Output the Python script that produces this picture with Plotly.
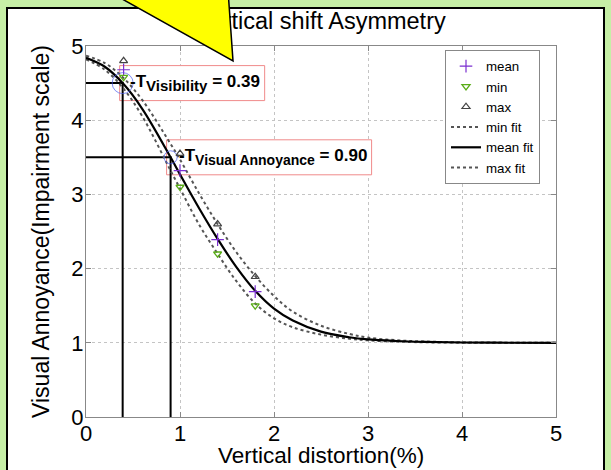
import plotly.graph_objects as go

# ---------------- data ----------------
x_pts = [0.4, 1.0, 1.4, 1.8]
mean_pts = [4.68, 3.32, 2.39, 1.69]
min_pts = [4.58, 3.10, 2.20, 1.50]
max_pts = [4.80, 3.55, 2.60, 1.89]

fit_x = [0, 0.2, 0.39, 0.6, 0.9, 1.0, 1.2, 1.4, 1.6, 1.8, 2.0, 2.2, 2.5, 2.8, 3.0, 3.3, 3.6, 4.0, 4.5, 5.0]
mean_fit = [4.84, 4.72, 4.5, 4.15, 3.5, 3.27, 2.82, 2.4, 2.02, 1.70, 1.46, 1.30, 1.15, 1.075, 1.045, 1.024, 1.012, 1.004, 1.001, 1.0]
min_fit = [4.82, 4.68, 4.44, 4.05, 3.32, 3.08, 2.60, 2.2, 1.83, 1.53, 1.33, 1.21, 1.11, 1.055, 1.033, 1.016, 1.007, 1.002, 1.0, 1.0]
max_fit = [4.87, 4.77, 4.58, 4.27, 3.68, 3.47, 3.02, 2.6, 2.22, 1.90, 1.63, 1.42, 1.23, 1.12, 1.07, 1.035, 1.018, 1.006, 1.002, 1.0]

thr_x = [0.39, 0.90]
thr_y = [4.5, 3.5]
thr_names = ["Visibility", "Visual Annoyance"]
thr_labels = ["0.39", "0.90"]

title_text = "Vertical shift Asymmetry"
x_title = "Vertical distortion(%)"
y_title = "Visual Annoyance(Impairment scale)"
ticks = [0, 1, 2, 3, 4, 5]

# ---------------- layout geometry (pixels) ----------------
W, H = 611, 470
L, R, T, B = 86, 556, 46, 417          # plot box in pixels
UX = (R - L) / 5.0                     # px per x unit
UY = (B - T) / 5.0                     # px per y unit


def px(xp):   # paper x (plot area spans L..R)
    return (xp - L) / (R - L)


def py(yp):   # paper y (plot area spans 0..B, top margin is 0)
    return (B - yp) / B


FONT = "Liberation Sans, Arial, sans-serif"

fig = go.Figure()

# threshold guide lines
for tx, ty in zip(thr_x, thr_y):
    fig.add_trace(go.Scatter(x=[0, tx, tx], y=[ty, ty, 0], mode="lines",
                             line=dict(color="black", width=2), showlegend=False,
                             hoverinfo="skip"))

# fits
fig.add_trace(go.Scatter(x=fit_x, y=min_fit, mode="lines", name="min fit",
                         line=dict(color="#555555", width=2, dash="dot", shape="spline"),
                         legendrank=4))
fig.add_trace(go.Scatter(x=fit_x, y=max_fit, mode="lines", name="max fit",
                         line=dict(color="#555555", width=2, dash="dot", shape="spline"),
                         legendrank=6))
fig.add_trace(go.Scatter(x=fit_x, y=mean_fit, mode="lines", name="mean fit",
                         line=dict(color="black", width=2.2, shape="spline"),
                         legendrank=5))

# threshold circles
fig.add_trace(go.Scatter(x=thr_x, y=thr_y, mode="markers", showlegend=False,
                         marker=dict(symbol="circle-open", size=[21, 13],
                                     color="#4a5cf0", line=dict(width=1, color="#4a5cf0"))))

# data points
fig.add_trace(go.Scatter(x=x_pts, y=mean_pts, mode="markers", name="mean",
                         marker=dict(symbol="cross-thin-open", size=9, color="#7b2fd0",
                                     line=dict(width=1.2, color="#7b2fd0")),
                         legendrank=1))
fig.add_trace(go.Scatter(x=x_pts, y=min_pts, mode="markers", name="min",
                         marker=dict(symbol="triangle-down-open", size=7, color="#5aad18",
                                     line=dict(width=1.3, color="#5aad18")),
                         legendrank=2))
fig.add_trace(go.Scatter(x=x_pts, y=max_pts, mode="markers", name="max",
                         marker=dict(symbol="triangle-up-open", size=7, color="#444444",
                                     line=dict(width=1.2, color="#444444")),
                         legendrank=3))

# title as a text mark on an invisible full-height subplot (so the callout covers it)
fig.add_trace(go.Scatter(x=[2.5], y=[(B - 23) / UY], mode="text", text=[title_text],
                         xaxis="x2", yaxis="y2",
                         textfont=dict(family=FONT, size=23.5, color="black"),
                         showlegend=False, hoverinfo="skip"))

# threshold boxes + texts
box_w = [145, 205]
box_dx = [-3, -4]
sub_sizes = [15, 14]
shapes = [
    # white frame with black border
    dict(type="rect", xref="paper", yref="paper", layer="below",
         x0=px(7), x1=px(604), y0=py(490), y1=py(8),
         fillcolor="white", line=dict(color="black", width=2)),
]
for tx, ty, nm, lab, bw, dx, ss in zip(thr_x, thr_y, thr_names, thr_labels, box_w, box_dx, sub_sizes):
    x0 = tx + dx / UX
    x1 = x0 + bw / UX
    shapes.append(dict(type="rect", xref="x", yref="y", layer="between",
                       x0=x0, x1=x1, y0=ty - 17.5 / UY, y1=ty + 17.5 / UY,
                       fillcolor="white", line=dict(color="#f08a8a", width=1)))
    fig.add_annotation(
        x=x1, y=ty, xref="x", yref="y", xanchor="right", yanchor="middle",
        xshift=-3, showarrow=False,
        text=("<b>-T<sub><span style='font-size:%dpx'>%s</span></sub> = %s</b>" % (ss, nm, lab)),
        font=dict(family=FONT, size=17, color="black"))

# x axis title (placed as text below the tick labels)
fig.add_annotation(x=0.5, y=py(455), xref="paper", yref="paper",
                   xanchor="center", yanchor="middle", showarrow=False,
                   text=x_title, font=dict(family=FONT, size=22.5, color="black"))

# yellow callout triangle
shapes.append(dict(type="path", xref="paper", yref="paper", layer="above",
                   path="M {:.4f},{:.4f} L {:.4f},{:.4f} L {:.4f},{:.4f} Z".format(
                       px(106), py(-10), px(233), py(61), px(228), py(-10)),
                   fillcolor="#ffff00", line=dict(color="black", width=1.5)))

axis_common = dict(range=[0, 5], tickvals=ticks, ticks="inside", ticklen=5,
                   tickcolor="#888888", showline=True, linecolor="#888888",
                   linewidth=1, mirror="ticks", showgrid=True,
                   gridcolor="#c4c4c4", griddash="dot", gridwidth=1,
                   zeroline=False, automargin=False, ticklabelstandoff=-3,
                   tickfont=dict(family=FONT, size=22, color="black"))

fig.update_layout(
    width=W, height=H,
    margin=dict(l=L, r=W - R, t=0, b=H - B),
    paper_bgcolor="#c6efa6", plot_bgcolor="rgba(0,0,0,0)",
    font=dict(family=FONT, color="black"),
    shapes=shapes,
    xaxis=dict(**axis_common, domain=[0, 1], anchor="y"),
    yaxis=dict(**axis_common, domain=[0, (B - T) / B], anchor="x",
               title=dict(text=y_title, font=dict(family=FONT, size=23))),
    xaxis2=dict(domain=[0, 1], range=[0, 5], visible=False, anchor="y2", fixedrange=True),
    yaxis2=dict(domain=[0, 1], range=[0, B / UY], visible=False, anchor="x2", fixedrange=True),
    legend=dict(x=px(445), y=py(50), xanchor="left", yanchor="top",
                bgcolor="white", bordercolor="#888888", borderwidth=1,
                font=dict(family=FONT, size=13.3), tracegroupgap=0,
                itemwidth=30),
)

fig.write_html("out.html")
